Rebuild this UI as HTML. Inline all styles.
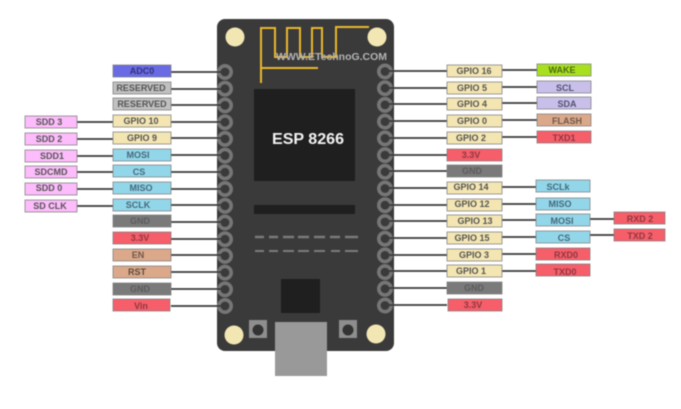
<!DOCTYPE html>
<html><head><meta charset="utf-8"><style>
html,body{margin:0;padding:0;background:#fff}
svg{display:block}
text{font-family:"Liberation Sans",sans-serif;font-size:9px;font-weight:bold;text-anchor:middle;fill:#555}
.l{stroke:#3a3a3a;stroke-width:1.7}
.b{stroke:#7f7f7f;stroke-opacity:.75;stroke-width:1}
</style></head><body>
<svg width="681" height="409" viewBox="0 0 681 409" xmlns="http://www.w3.org/2000/svg">
<g style="filter:blur(.45px)">
<!-- board -->
<rect x="217" y="19" width="177" height="332" rx="8" fill="#3a3a3a"/>
<rect x="275" y="322" width="52" height="54" fill="#999"/>
<rect x="254" y="89" width="101" height="92" fill="#1f1f1f"/>
<rect x="254" y="205" width="101" height="9" fill="#1f1f1f"/>
<rect x="281" y="279" width="39" height="34" fill="#1f1f1f"/>
<g stroke="#7b7b7b" stroke-width="2.6">
<path d="M255 237h9M269 237h9M283 237h11M298 237h11M314 237h11M330 237h10M345 237h13"/>
<path stroke-width="2" d="M255 251h9M269 251h9M283 251h11M298 251h11M314 251h11M331 251h9M345 251h13"/>
</g>
<!-- holes -->
<g fill="#f2e6b3">
<circle cx="235" cy="37" r="9.500"/><circle cx="377" cy="37" r="9.500"/>
<circle cx="234" cy="335" r="9.500"/><circle cx="376" cy="334" r="9.500"/>
</g>
<!-- buttons -->
<rect x="249" y="320" width="18" height="18" fill="#8e8e8e"/><circle cx="258" cy="330" r="5.500" fill="#333"/>
<rect x="339" y="320" width="18" height="18" fill="#8e8e8e"/><circle cx="348" cy="330" r="5.500" fill="#333"/>
<!-- antenna -->
<path fill="none" stroke="#e8b52e" stroke-width="2" d="M261 83V28H275V57H287V28H300V57H312V28H322V57H336V27H369M261 68H318"/>
<!-- pins -->
<g fill="none" stroke="#767676" stroke-width="3.600">
<circle cx="225" cy="72" r="6.200"/><circle cx="225" cy="88.700" r="6.200"/><circle cx="225" cy="105.400" r="6.200"/><circle cx="225" cy="122.200" r="6.200"/><circle cx="225" cy="138.900" r="6.200"/><circle cx="225" cy="155.600" r="6.200"/><circle cx="225" cy="172.300" r="6.200"/><circle cx="225" cy="189" r="6.200"/><circle cx="225" cy="205.800" r="6.200"/><circle cx="225" cy="222.500" r="6.200"/><circle cx="225" cy="239.200" r="6.200"/><circle cx="225" cy="255.900" r="6.200"/><circle cx="225" cy="272.600" r="6.200"/><circle cx="225" cy="289.400" r="6.200"/><circle cx="225" cy="306" r="6.200"/>
<circle cx="385" cy="71.500" r="6.200"/><circle cx="385" cy="88.200" r="6.200"/><circle cx="385" cy="104.900" r="6.200"/><circle cx="385" cy="121.600" r="6.200"/><circle cx="385" cy="138.400" r="6.200"/><circle cx="385" cy="155.100" r="6.200"/><circle cx="385" cy="171.800" r="6.200"/><circle cx="385" cy="188.500" r="6.200"/><circle cx="385" cy="205.200" r="6.200"/><circle cx="385" cy="222" r="6.200"/><circle cx="385" cy="238.700" r="6.200"/><circle cx="385" cy="255.400" r="6.200"/><circle cx="385" cy="272.100" r="6.200"/><circle cx="385" cy="288.800" r="6.200"/><circle cx="385" cy="305.500" r="6.200"/>
</g>
<!-- connectors -->
<g class="l">
<path d="M171 72H225M171 89H225M171 105H225M171 122H225M171 138H225M171 155H225M171 172H225M171 189H225M171 205H225M171 222H225M171 239H225M171 255H225M171 272H225M171 289H225M171 306H225"/>
<path d="M77 122H113M77 139H113M77 156H113M77 172H113M77 189H113M77 206H113"/>
<path d="M385 71H447M385 88H447M385 104H447M385 121H447M385 138H447M385 155H447M385 171H447M385 188H447M385 205H447M385 221H447M385 238H447M385 255H447M385 271H447M385 288H447M385 305H447"/>
<path d="M502 70H537M502 87H537M502 103H537M502 120H537M502 137H537M502 187H536M502 204H536M502 220H536M502 237H536M502 254H536M502 271H536"/>
<path d="M590 219H614M590 235H614"/>
</g>
<!-- left column -->
<g class="b">
<rect x="113" y="65" width="58" height="12" fill="#6a6ae4"/>
<rect x="113" y="82" width="58" height="12" fill="#c0c0c0"/>
<rect x="113" y="98" width="58" height="12" fill="#c0c0c0"/>
<rect x="113" y="115" width="58" height="12" fill="#f4e6b2"/>
<rect x="113" y="132" width="58" height="12" fill="#f4e6b2"/>
<rect x="113" y="149" width="58" height="12" fill="#92d6ea"/>
<rect x="113" y="165" width="58" height="12" fill="#92d6ea"/>
<rect x="113" y="182" width="58" height="12" fill="#92d6ea"/>
<rect x="113" y="199" width="58" height="12" fill="#92d6ea"/>
<rect x="113" y="215" width="58" height="12" fill="#7a7a7a"/>
<rect x="113" y="232" width="58" height="12" fill="#f65e6a"/>
<rect x="113" y="249" width="58" height="12" fill="#dba88a"/>
<rect x="113" y="266" width="58" height="12" fill="#dba88a"/>
<rect x="113" y="283" width="58" height="12" fill="#7a7a7a"/>
<rect x="113" y="299" width="57" height="12" fill="#f65e6a"/>
</g>
<!-- SD column -->
<g class="b" fill="#fdbcfb">
<rect x="25" y="116" width="52" height="12"/><rect x="25" y="133" width="52" height="12"/><rect x="25" y="150" width="52" height="12"/><rect x="25" y="166" width="52" height="12"/><rect x="25" y="183" width="52" height="12"/><rect x="25" y="200" width="52" height="12"/>
</g>
<!-- right column -->
<g class="b">
<rect x="447" y="65" width="55" height="12" fill="#f4e6b2"/>
<rect x="447" y="82" width="55" height="12" fill="#f4e6b2"/>
<rect x="447" y="98" width="55" height="12" fill="#f4e6b2"/>
<rect x="447" y="115" width="55" height="12" fill="#f4e6b2"/>
<rect x="447" y="132" width="55" height="12" fill="#f4e6b2"/>
<rect x="447" y="149" width="55" height="12" fill="#f65e6a"/>
<rect x="447" y="165" width="55" height="12" fill="#7a7a7a"/>
<rect x="447" y="182" width="55" height="12" fill="#f4e6b2"/>
<rect x="447" y="199" width="55" height="12" fill="#f4e6b2"/>
<rect x="447" y="215" width="55" height="12" fill="#f4e6b2"/>
<rect x="447" y="232" width="55" height="12" fill="#f4e6b2"/>
<rect x="447" y="249" width="55" height="12" fill="#f4e6b2"/>
<rect x="447" y="265" width="55" height="12" fill="#f4e6b2"/>
<rect x="447" y="282" width="55" height="12" fill="#7a7a7a"/>
<rect x="448" y="299" width="54" height="12" fill="#f65e6a"/>
</g>
<!-- function column -->
<g class="b">
<rect x="537" y="64" width="54" height="12" fill="#a8e020"/>
<rect x="537" y="81" width="54" height="12" fill="#c8c0ea"/>
<rect x="537" y="97" width="54" height="12" fill="#c8c0ea"/>
<rect x="537" y="114" width="54" height="12" fill="#dba88a"/>
<rect x="537" y="131" width="54" height="12" fill="#f65e6a"/>
<rect x="536" y="180" width="54" height="12" fill="#92d6ea"/>
<rect x="536" y="198" width="54" height="12" fill="#92d6ea"/>
<rect x="536" y="214" width="54" height="12" fill="#92d6ea"/>
<rect x="536" y="231" width="54" height="12" fill="#92d6ea"/>
<rect x="536" y="248" width="54" height="12" fill="#f65e6a"/>
<rect x="536" y="264" width="54" height="12" fill="#f65e6a"/>
<rect x="614" y="212" width="51" height="12" fill="#f65e6a"/>
<rect x="614" y="229" width="51" height="12" fill="#f65e6a"/>
</g>
<!-- text -->
<text x="272" y="144" textLength="72" lengthAdjust="spacingAndGlyphs" style="text-anchor:start;font-size:15.500px;fill:#f2f2f2">ESP 8266</text>
<text x="276" y="60" textLength="111" lengthAdjust="spacingAndGlyphs" style="text-anchor:start;font-size:10.500px;fill:#b4b4b4">WWW.ETechnoG.COM</text>
<g>
<text x="142" y="74" style="fill:#33337a">ADC0</text>
<text x="141" y="91">RESERVED</text><text x="142" y="107">RESERVED</text>
<text x="141" y="124">GPIO 10</text><text x="142" y="141">GPIO 9</text>
<text x="138" y="158" style="fill:#47697a">MOSI</text><text x="139" y="175" style="fill:#47697a">CS</text>
<text x="141" y="191" style="fill:#47697a">MISO</text><text x="138" y="208" style="fill:#47697a">SCLK</text>
<text x="140" y="224" style="fill:#5c5c5c">GND</text><text x="140" y="241" style="fill:#8e3840">3.3V</text>
<text x="138" y="258" style="fill:#6f5a4c">EN</text><text x="137" y="275" style="fill:#5f4c40">RST</text>
<text x="140" y="292" style="fill:#5c5c5c">GND</text><text x="141" y="309" style="fill:#8e3840">Vin</text>
<text x="49" y="125">SDD 3</text><text x="49" y="142">SDD 2</text><text x="52" y="159">SDD1</text>
<text x="51" y="175">SDCMD</text><text x="49" y="191">SDD 0</text><text x="50" y="209">SD CLK</text>
<text x="474" y="74">GPIO 16</text><text x="472" y="91">GPIO 5</text><text x="472" y="107">GPIO 4</text>
<text x="472" y="124">GPIO 0</text><text x="471" y="141">GPIO 2</text>
<text x="471" y="158" style="fill:#8e3840">3.3V</text><text x="472" y="174" style="fill:#5c5c5c">GND</text>
<text x="471" y="190">GPIO 14</text><text x="472" y="207">GPIO 12</text><text x="475" y="224">GPIO 13</text>
<text x="472" y="241">GPIO 15</text><text x="474" y="258">GPIO 3</text><text x="471" y="274">GPIO 1</text>
<text x="474" y="291" style="fill:#5c5c5c">GND</text><text x="473" y="308" style="fill:#8e3840">3.3V</text>
<text x="562" y="73" style="fill:#4f6b14">WAKE</text><text x="565" y="91" style="fill:#55506f">SCL</text>
<text x="567" y="107" style="fill:#55506f">SDA</text><text x="567" y="124" style="fill:#6f5a4c">FLASH</text>
<text x="564" y="141" style="fill:#8e3840">TXD1</text>
<text x="558" y="190" style="fill:#47697a">SCLk</text><text x="560" y="207" style="fill:#47697a">MISO</text>
<text x="562" y="224" style="fill:#47697a">MOSI</text><text x="564" y="241" style="fill:#47697a">CS</text>
<text x="566" y="258" style="fill:#8e3840">RXD0</text><text x="565" y="275" style="fill:#8e3840">TXD0</text>
<text x="640" y="222" style="fill:#8e3840">RXD 2</text><text x="640" y="239" style="fill:#8e3840">TXD 2</text>
</g>
</g>
</svg>
</body></html>
